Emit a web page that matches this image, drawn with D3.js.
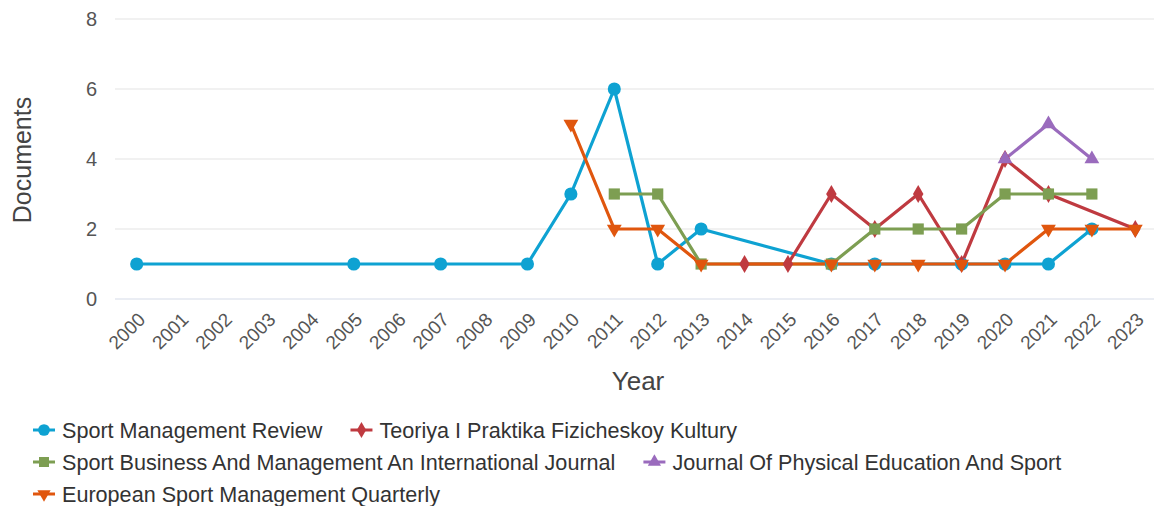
<!DOCTYPE html>
<html lang="en">
<head>
<meta charset="utf-8">
<title>Documents by year</title>
<script src="https://d3js.org/d3.v7.min.js"></script>
<style>
  body { margin: 0; background: #fff; font-family: "Liberation Sans", Arial, sans-serif; }
  .grid line { stroke: #e3e3e3; }
</style>
</head>
<body>
<script>
var years = ["2000","2001","2002","2003","2004","2005","2006","2007","2008","2009","2010","2011",
  "2012","2013","2014","2015","2016","2017","2018","2019","2020","2021","2022","2023"];
var yTicks = [0, 2, 4, 6, 8];

var smrYears = ["2000","2005","2007","2009","2010","2011","2012","2013","2016","2017","2019","2020","2021","2022"];
var smrValues = [1, 1, 1, 1, 3, 6, 1, 2, 1, 1, 1, 1, 1, 2];

var tpfkYears = ["2014","2015","2016","2017","2018","2019","2020","2021","2023"];
var tpfkValues = [1, 1, 3, 2, 3, 1, 4, 3, 2];

var sbmYears = ["2011","2012","2013","2016","2017","2018","2019","2020","2021","2022"];
var sbmValues = [3, 3, 1, 1, 2, 2, 2, 3, 3, 3];

var jpesYears = ["2020","2021","2022"];
var jpesValues = [4, 5, 4];

var esmqYears = ["2010","2011","2012","2013","2016","2017","2018","2019","2020","2021","2022","2023"];
var esmqValues = [5, 2, 2, 1, 1, 1, 1, 1, 1, 2, 2, 2];

var seriesNames = ["Sport Management Review", "Teoriya I Praktika Fizicheskoy Kultury",
  "Sport Business And Management An International Journal", "Journal Of Physical Education And Sport",
  "European Sport Management Quarterly"];

var colors = ["#0ea2d2", "#bf3a40", "#7d9e52", "#9a6bbd", "#e0560e"];
var symbols = [d3.symbolCircle, d3.symbolDiamond, d3.symbolSquare, "up", "down"];

var series = [
  {years: smrYears, values: smrValues},
  {years: tpfkYears, values: tpfkValues},
  {years: sbmYears, values: sbmValues},
  {years: jpesYears, values: jpesValues},
  {years: esmqYears, values: esmqValues}
].map(function(s, i) {
  return {name: seriesNames[i], color: colors[i], symbol: symbols[i],
    points: s.years.map(function(y, j) { return {year: y, value: s.values[j]}; })};
});

var width = 1154, height = 506;
var svg = d3.select("body").append("svg").attr("width", width).attr("height", height);

var x = d3.scaleBand().domain(years).range([115, 1157]);
var y = d3.scaleLinear().domain([0, 8]).range([299, 19]);

function cx(d) { return x(d.year) + x.bandwidth() / 2; }

// grid
svg.append("g").attr("class", "grid")
  .selectAll("line").data(yTicks.filter(function(t) { return t > 0; })).enter().append("line")
  .attr("x1", 115).attr("x2", width).attr("y1", function(d) { return y(d); }).attr("y2", function(d) { return y(d); });

svg.append("line").attr("x1", 115).attr("x2", width).attr("y1", y(0)).attr("y2", y(0))
  .attr("stroke", "#d5dbe8");

// y axis labels
var yAxis = d3.axisLeft(y).tickValues(yTicks).tickSize(0).tickPadding(13);
var yg = svg.append("g").attr("transform", "translate(110,0)").call(yAxis);
yg.select(".domain").remove();
yg.selectAll("text").style("font-size", "20px").style("font-family", "'Liberation Sans', Arial, sans-serif").attr("fill", "#555");

// x axis labels
var xAxis = d3.axisBottom(x).tickSize(0);
var xg = svg.append("g").attr("transform", "translate(0," + y(0) + ")").call(xAxis);
xg.select(".domain").remove();
xg.selectAll("text")
  .style("font-size", "19px").style("font-family", "'Liberation Sans', Arial, sans-serif").attr("fill", "#555")
  .attr("text-anchor", "end").attr("x", 0).attr("y", 0).attr("dy", "0.35em")
  .attr("transform", "translate(5,17) rotate(-45)");

// axis titles
svg.append("text").attr("x", 638).attr("y", 390).attr("text-anchor", "middle")
  .style("font-size", "26px").attr("fill", "#444").text("Year");
svg.append("text").attr("transform", "translate(31,160) rotate(-90)").attr("text-anchor", "middle")
  .style("font-size", "25px").attr("fill", "#444").text("Documents");

function markerPath(sym, size) {
  if (sym === "up" || sym === "down") return d3.symbol().type(d3.symbolTriangle).size(size)();
  return d3.symbol().type(sym).size(size)();
}
function markerSize(sym) {
  if (sym === d3.symbolCircle) return 135;
  if (sym === d3.symbolSquare) return 125;
  if (sym === d3.symbolDiamond) return 95;
  return 95;
}
function markerRot(sym) { return sym === "down" ? " rotate(180)" : ""; }

var line = d3.line().x(cx).y(function(d) { return y(d.value); });

svg.append("g").selectAll("path").data(series).enter().append("path")
  .attr("d", function(s) { return line(s.points); })
  .attr("fill", "none").attr("stroke", function(s) { return s.color; })
  .attr("stroke-width", 3.2).attr("stroke-linejoin", "round");

series.forEach(function(s) {
  svg.append("g").selectAll("path").data(s.points).enter().append("path")
    .attr("d", markerPath(s.symbol, markerSize(s.symbol)))
    .attr("transform", function(d) { return "translate(" + cx(d) + "," + y(d.value) + ")" + markerRot(s.symbol); })
    .attr("fill", s.color);
});

// legend
var legend = svg.append("g");
var lx = 33, ly = 430, rowH = 32, maxW = 1140;
series.forEach(function(s) {
  var item = legend.append("g");
  item.append("line").attr("x1", 0).attr("x2", 22).attr("y1", 0).attr("y2", 0)
    .attr("stroke", s.color).attr("stroke-width", 3);
  item.append("path").attr("d", markerPath(s.symbol, markerSize(s.symbol) * 0.8))
    .attr("transform", "translate(11,0)" + markerRot(s.symbol)).attr("fill", s.color);
  var t = item.append("text").attr("x", 29).attr("y", 0).attr("dy", "0.35em")
    .style("font-size", "21.6px").attr("fill", "#333").text(s.name);
  var w = 29 + t.node().getComputedTextLength();
  if (lx + w > maxW) { lx = 33; ly += rowH; }
  item.attr("transform", "translate(" + lx + "," + ly + ")");
  lx += w + 28;
});
</script>
</body>
</html>
